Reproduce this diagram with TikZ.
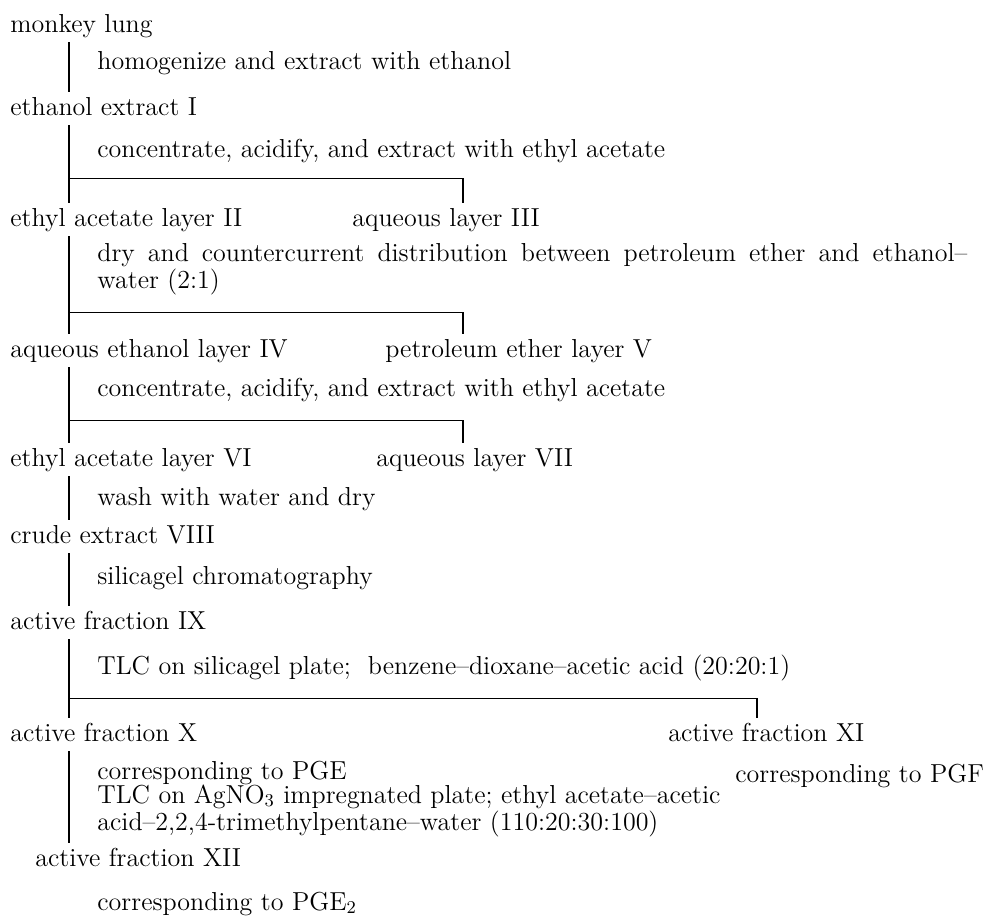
\documentclass[tikz,border=0pt]{standalone}

\begin{document}
\begin{tikzpicture}[x=0.5pt,y=-0.5pt,
  lbl/.style={anchor=base west,inner xsep=0pt,inner ysep=2.5pt,text height=9pt,text depth=2.5pt,font=\fontsize{13}{12}\selectfont},
  proc/.style={anchor=base west,inner sep=0pt,align=left,font=\fontsize{13}{12}\selectfont},
  trunk/.style={line width=0.7pt},
  split/.style={line width=0.45pt},
  drop/.style={line width=1.1pt}]
 \useasboundingbox (0,0) rectangle (987,922);
 \coordinate (axis) at (69,0);
 % substances
 \node[lbl] (lung) at (10,32) {monkey lung};
 \node[lbl] (extI) at (10,115) {ethanol extract I};
 \node[lbl] (layII) at (10,226) {ethyl acetate layer II};
 \node[lbl] (layIII) at (352,226) {aqueous layer III};
 \node[lbl] (layIV) at (10,357) {aqueous ethanol layer IV};
 \node[lbl] (layV) at (385,357) {petroleum ether layer V};
 \node[lbl] (layVI) at (10,466) {ethyl acetate layer VI};
 \node[lbl] (layVII) at (376,466) {aqueous layer VII};
 \node[lbl] (crude) at (10,543) {crude extract VIII};
 \node[lbl] (fracIX) at (10,629) {active fraction IX};
 \node[lbl] (fracX) at (10,741) {active fraction X};
 \node[lbl] (fracXI) at (668,741) {active fraction XI};
 \node[lbl] (fracXII) at (35,866) {active fraction XII};
 % treatments (multi-line: base is the last line)
 \node[proc] (homog) at (97,69) {homogenize and extract with ethanol};
 \node[proc] (conc1) at (97,157) {concentrate, acidify, and extract with ethyl acetate};
 \node[proc] (ccd) at (97,288) {\makebox[435pt][s]{dry and countercurrent distribution between petroleum ether and ethanol--}\\water (2:1)};
 \node[proc] (conc2) at (97,396) {concentrate, acidify, and extract with ethyl acetate};
 \node[proc] (wash) at (97,505) {wash with water and dry};
 \node[proc] (silica) at (97,584) {silicagel chromatography};
 \node[proc] (tlc1) at (97,674) {TLC on silicagel plate;\hspace{0.65em}benzene--dioxane--acetic acid (20:20:1)};
 \node[proc] (tlc2) at (97,830) {corresponding to PGE\\TLC on AgNO$_3$ impregnated plate; ethyl acetate--acetic\\acid--2,2,4-trimethylpentane--water (110:20:30:100)};
 \node[proc] (pgf) at (735,782) {corresponding to PGF};
 \node[proc] (pge2) at (97,910) {corresponding to PGE$_2$};
 % forks
 \coordinate (f1) at (463,178);
 \coordinate (f2) at (463,312);
 \coordinate (f3) at (463,420);
 \coordinate (f4) at (757,698);
 % lines
 \draw[trunk] (lung.south -| axis) -- (extI.north -| axis);
 \draw[trunk] (extI.south -| axis) -- (layII.north -| axis);
 \draw[split] (f1 -| axis) -- (f1);
 \draw[drop] (f1) -- (f1 |- layIII.north);
 \draw[trunk] (layII.south -| axis) -- (layIV.north -| axis);
 \draw[split] (f2 -| axis) -- (f2);
 \draw[drop] (f2) -- (f2 |- layV.north);
 \draw[trunk] (layIV.south -| axis) -- (layVI.north -| axis);
 \draw[split] (f3 -| axis) -- (f3);
 \draw[drop] (f3) -- (f3 |- layVII.north);
 \draw[trunk] (layVI.south -| axis) -- (crude.north -| axis);
 \draw[trunk] (crude.south -| axis) -- (fracIX.north -| axis);
 \draw[trunk] (fracIX.south -| axis) -- (fracX.north -| axis);
 \draw[split] (f4 -| axis) -- (f4);
 \draw[drop] (f4) -- (f4 |- fracXI.north);
 \draw[trunk] (fracX.south -| axis) -- (fracXII.north -| axis);
\end{tikzpicture}
\end{document}
